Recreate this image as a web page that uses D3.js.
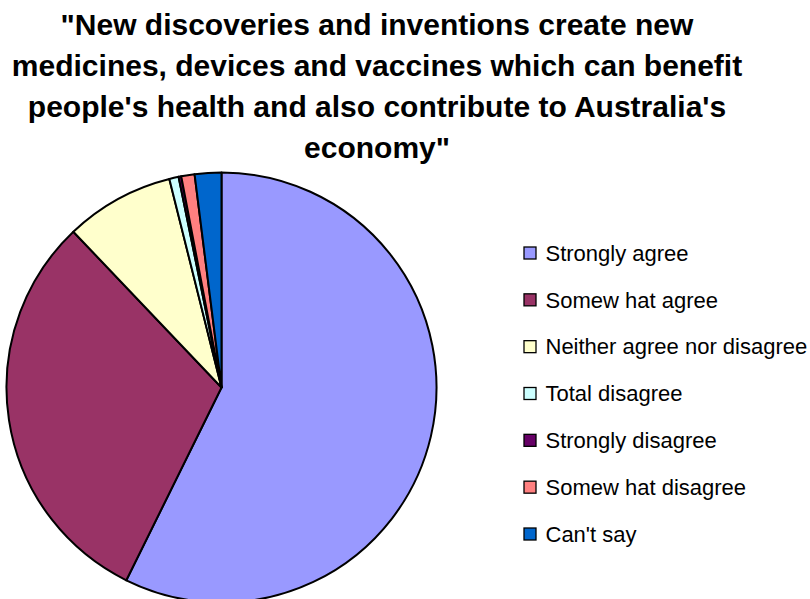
<!DOCTYPE html>
<html>
<head>
<meta charset="utf-8">
<script src="https://cdn.jsdelivr.net/npm/d3@7"></script>
<style>
  html, body { margin: 0; padding: 0; background: #ffffff; }
  svg { display: block; }
</style>
</head>
<body>
<svg id="chart" width="810" height="599"></svg>
<script>
// Survey responses (percent of respondents)
const categories = [
  "Strongly agree",
  "Somew hat agree",
  "Neither agree nor disagree",
  "Total disagree",
  "Strongly disagree",
  "Somew hat disagree",
  "Can't say"
];
const values = [57.3, 30.6, 8.2, 0.7, 0.2, 1.0, 2.0];
const colors = ["#9999FF", "#993366", "#FFFFCC", "#CCFFFF", "#660066", "#FF8080", "#0066CC"];

const titleLines = [
  "\"New discoveries and inventions create new",
  "medicines, devices and vaccines which can benefit",
  "people's health and also contribute to Australia's",
  "economy\""
];

const svg = d3.select("#chart");

// Title
const title = svg.append("g")
  .attr("font-family", "Liberation Sans, Arial, sans-serif")
  .attr("font-weight", "bold")
  .attr("font-size", 30)
  .attr("fill", "#000")
  .attr("text-anchor", "middle");
title.selectAll("text")
  .data(titleLines)
  .join("text")
  .attr("x", 377)
  .attr("y", (d, i) => 35 + i * 41)
  .text(d => d);

// Pie
const cx = 221.5, cy = 387.5, r = 215;
const pie = d3.pie().sort(null).value(d => d.value);
const arc = d3.arc().innerRadius(0).outerRadius(r);
const data = categories.map((c, i) => ({ name: c, value: values[i], color: colors[i] }));

svg.append("g")
  .attr("transform", `translate(${cx},${cy})`)
  .selectAll("path")
  .data(pie(data))
  .join("path")
  .attr("d", arc)
  .attr("fill", d => d.data.color)
  .attr("stroke", "#000")
  .attr("stroke-width", 2)
  .attr("stroke-linejoin", "round");

// Legend
const legend = svg.append("g")
  .attr("font-family", "Liberation Sans, Arial, sans-serif")
  .attr("font-size", 22)
  .attr("fill", "#000");
const rowY = d3.scalePoint().domain(categories).range([253, 534]);
const rows = legend.selectAll("g")
  .data(data)
  .join("g")
  .attr("transform", d => `translate(0,${rowY(d.name)})`);
rows.append("rect")
  .attr("x", 524)
  .attr("y", -6)
  .attr("width", 12)
  .attr("height", 12)
  .attr("fill", d => d.color)
  .attr("stroke", "#000")
  .attr("stroke-width", 1.3);
rows.append("text")
  .attr("x", 545.5)
  .attr("y", 0)
  .attr("dy", "0.35em")
  .text(d => d.name);
</script>
</body>
</html>
